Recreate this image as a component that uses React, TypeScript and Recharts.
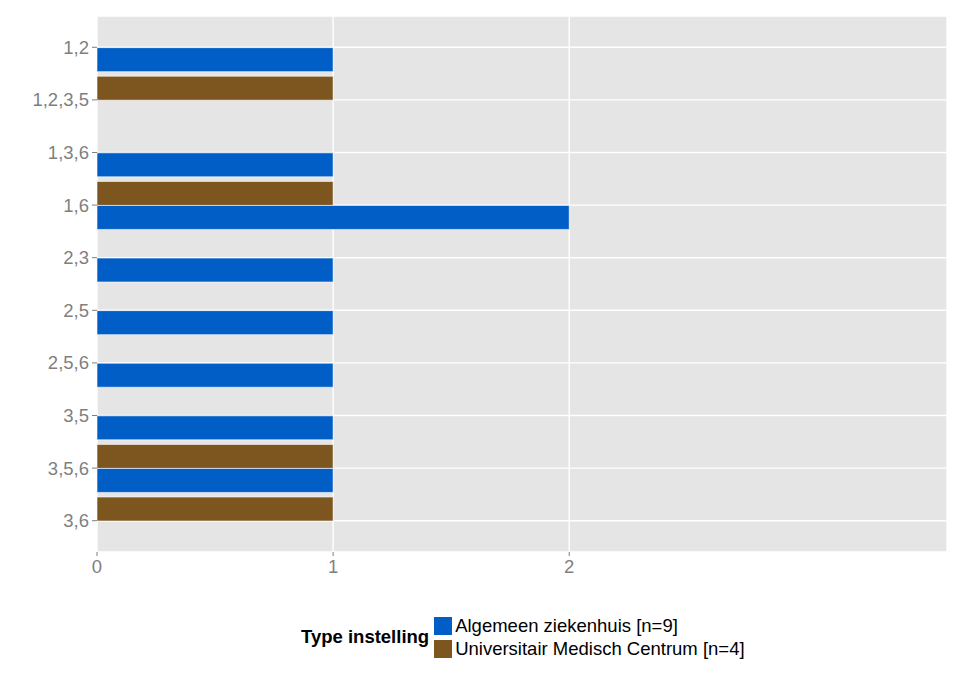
import React from "react";
import { Bar, BarChart, CartesianGrid, XAxis, YAxis } from "recharts";

const categories = ["1,2", "1,2,3,5", "1,3,6", "1,6", "2,3", "2,5", "2,5,6", "3,5", "3,5,6", "3,6"];
const algemeen = [1, null, 1, 2, 1, 1, 1, 1, 1, null];
const umc = [null, 1, null, 1, null, null, null, null, 1, 1];
const xTicks = [0, 1, 2];

const BLUE = "#005EC6";
const BROWN = "#7D561F";
const GREY_TEXT = "#7F7F7F";
const FONT = "Liberation Sans, Arial, sans-serif";

const data = categories.map((cat, i) => ({ cat, az: algemeen[i], umc: umc[i] }));

const legendItems = [
  { label: "Algemeen ziekenhuis [n=9]", color: BLUE },
  { label: "Universitair Medisch Centrum [n=4]", color: BROWN },
];

export default function App() {
  return (
    <div style={{ position: "relative", width: 948, height: 666, fontFamily: FONT }}>
      <BarChart
        width={948}
        height={666}
        data={data}
        layout="vertical"
        margin={{ top: 8, right: 9, left: 0, bottom: 92 }}
        barCategoryGap="5%"
        barGap={0}
      >
        <CartesianGrid fill="#E5E5E5" stroke="#FFFFFF" strokeWidth={1.4} />
        <XAxis
          type="number"
          domain={[0, 3.6]}
          ticks={xTicks}
          allowDataOverflow
          axisLine={false}
          tickLine={{ stroke: GREY_TEXT }}
          tickSize={4}
          tickMargin={4}
          height={30}
          tick={{ fill: GREY_TEXT, fontSize: 18.5, fontFamily: FONT }}
        />
        <YAxis
          type="category"
          dataKey="cat"
          width={89}
          padding={{ top: 5, bottom: 5 }}
          axisLine={false}
          tickLine={{ stroke: GREY_TEXT }}
          tickSize={5}
          tickMargin={3}
          interval={0}
          tick={{ fill: GREY_TEXT, fontSize: 18.5, fontFamily: FONT }}
        />
        <Bar dataKey="umc" fill={BROWN} stroke="#FFFFFF" strokeWidth={0.6} isAnimationActive={false} />
        <Bar dataKey="az" fill={BLUE} stroke="#FFFFFF" strokeWidth={0.6} isAnimationActive={false} />
      </BarChart>
      <div
        style={{
          position: "absolute",
          left: 293,
          top: 606,
          display: "flex",
          alignItems: "center",
        }}
      >
        <div style={{ fontWeight: "bold", fontSize: 18.5, color: "#000", marginRight: 4 }}>Type instelling</div>
        <div>
          {legendItems.map((it) => (
            <div key={it.label} style={{ display: "flex", alignItems: "center", height: 23 }}>
              <span
                style={{
                  display: "inline-block",
                  width: 20,
                  height: 20,
                  background: it.color,
                  border: "1px solid #fff",
                  boxSizing: "border-box",
                  marginRight: 2,
                }}
              />
              <span style={{ fontSize: 18.5, color: "#000" }}>{it.label}</span>
            </div>
          ))}
        </div>
      </div>
    </div>
  );
}
